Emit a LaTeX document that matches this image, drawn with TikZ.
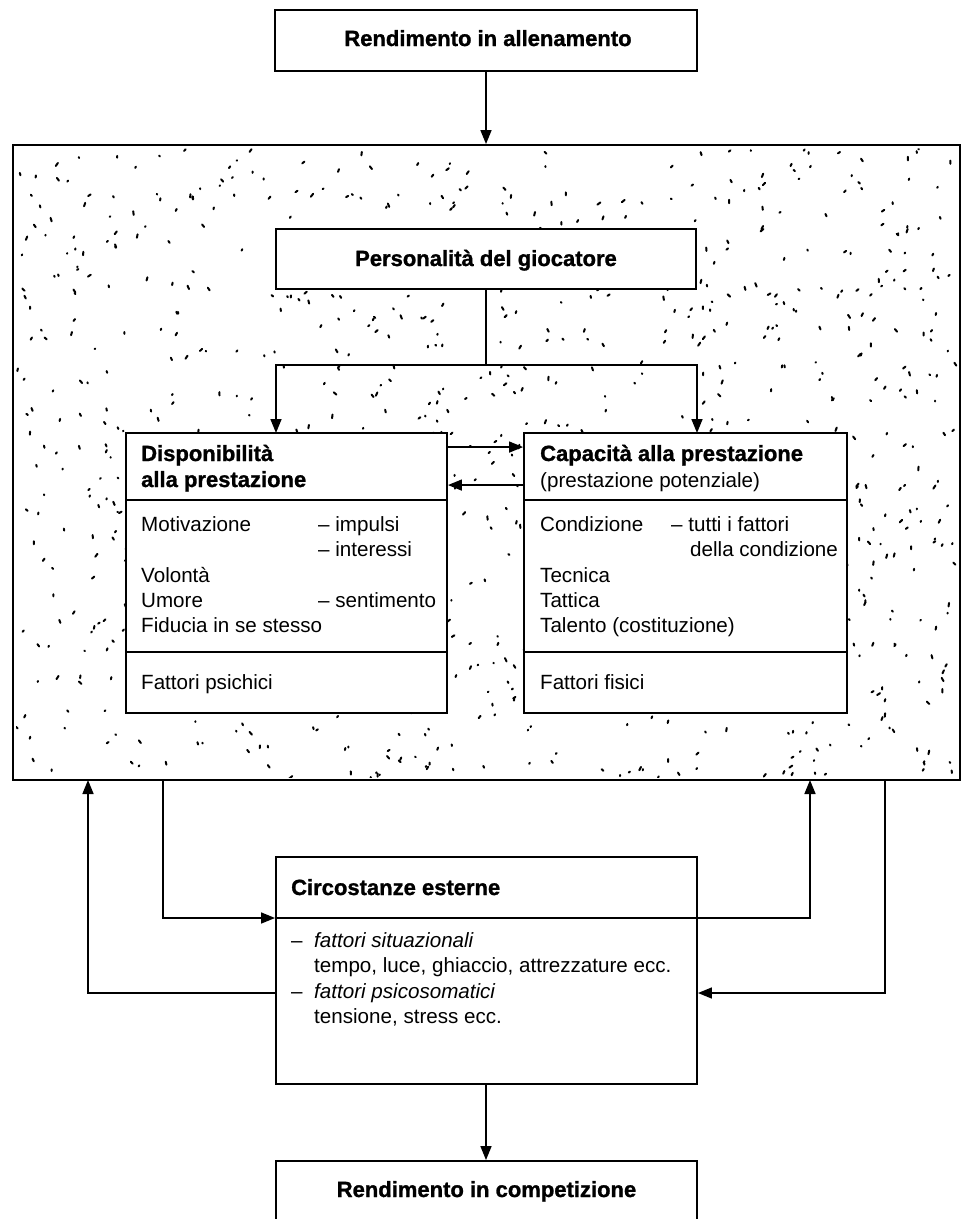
\documentclass[tikz,border=0pt]{standalone}
\usepackage{fontspec}
\setmainfont[BoldFeatures={FakeBold=1.2}]{Liberation Sans}
\usetikzlibrary{arrows.meta,calc}
\newcommand\myrg{\fontsize{20.6}{25.5}\selectfont}
\newcommand\mybd{\fontsize{22}{26}\selectfont\bfseries}
\begin{document}
\begin{tikzpicture}[x=1pt,y=-1pt,
  box/.style={draw, line width=1.9pt, fill=white, inner sep=0pt, rectangle},
  conn/.style={line width=1.6pt},
  arr/.style={line width=1.6pt, -{Triangle[length=14pt,width=11pt]}},
  txt/.style={anchor=base west, inner sep=0pt, font=\myrg},
  btxt/.style={anchor=base west, inner sep=0pt, font=\mybd},
  ctxt/.style={anchor=base, inner sep=0pt, font=\mybd},
  stip/.style={line width=2pt, line cap=round}]
\clip (0,0) rectangle (967,1219);
\fill[white] (0,0) rectangle (967,1219);
% big stippled frame
\node[box, minimum width=947pt, minimum height=635pt] (big) at (486.5,462.5) {};
\begin{scope}
\clip (16,148) rectangle (957,777);
\pgfmathsetseed{4711}
\foreach \i in {1,...,1050}{
  \pgfmathsetmacro\xx{16+rnd*941}
  \pgfmathsetmacro\yy{149+rnd*628}
  \pgfmathsetmacro\aa{40+rnd*110}
  \pgfmathsetmacro\ll{0.6+rnd*3.2}
  \draw[stip] (\xx,\yy) -- ++(\aa:\ll);
}
\end{scope}
% boxes
\node[box, minimum width=422pt, minimum height=61pt] (top) at (486,40.5) {};
\node[ctxt] (toptxt) at (488,46) {Rendimento in allenamento};
\node[box, minimum width=420pt, minimum height=60pt] (pers) at (486,259) {};
\node[ctxt] (perstxt) at (486,266) {Personalità del giocatore};
\node[box, minimum width=321pt, minimum height=280pt] (disp) at (286.5,573) {};
\node[box, minimum width=323pt, minimum height=280pt] (cap) at (685.5,573) {};
\node[box, minimum width=421pt, minimum height=227pt] (circ) at (486.5,970.5) {};
\node[box, minimum width=421pt, minimum height=120pt] (comp) at (486.5,1221) {};
\node[ctxt] (comptxt) at (486.5,1197) {Rendimento in competizione};
% separators
\draw[line width=1.9pt] (disp.west |- 0,500) -- (disp.east |- 0,500);
\draw[line width=1.9pt] (disp.west |- 0,652) -- (disp.east |- 0,652);
\draw[line width=1.9pt] (cap.west |- 0,500) -- (cap.east |- 0,500);
\draw[line width=1.9pt] (cap.west |- 0,652) -- (cap.east |- 0,652);
% Disponibilità texts
\node[btxt] (d1) at (141,461) {Disponibilità};
\node[btxt] (d2) at (141,487) {alla prestazione};
\node[txt] (d3) at (141,531) {Motivazione};
\node[txt] (d3b) at (318,531) {– impulsi};
\node[txt] (d4b) at (318,556) {– interessi};
\node[txt] (d5) at (141,582) {Volontà};
\node[txt] (d6) at (141,607) {Umore};
\node[txt] (d6b) at (318,607) {– sentimento};
\node[txt] (d7) at (141,632) {Fiducia in se stesso};
\node[txt] (d8) at (141,689) {Fattori psichici};
% Capacità texts
\node[btxt] (c1) at (540,461) {Capacità alla prestazione};
\node[txt] (c2) at (540,487) {(prestazione potenziale)};
\node[txt] (c3) at (540,531) {Condizione};
\node[txt] (c3b) at (671,531) {– tutti i fattori};
\node[txt] (c4b) at (690,556) {della condizione};
\node[txt] (c5) at (540,582) {Tecnica};
\node[txt] (c6) at (540,607) {Tattica};
\node[txt] (c7) at (540,632) {Talento (costituzione)};
\node[txt] (c8) at (540,689) {Fattori fisici};
% Circostanze texts
\node[btxt] (e1) at (291,895) {Circostanze esterne};
\node[txt] (e2) at (291,947) {–};
\node[txt] (e2b) at (314,947) {\itshape fattori situazionali};
\node[txt] (e3) at (314,972) {tempo, luce, ghiaccio, attrezzature ecc.};
\node[txt] (e4) at (291,998) {–};
\node[txt] (e4b) at (314,998) {\itshape fattori psicosomatici};
\node[txt] (e5) at (314,1023) {tensione, stress ecc.};
% coordinates
\coordinate (split) at (486,365);
\coordinate (dIn) at (276,433);
\coordinate (cIn) at (697,433);
\coordinate (bL1) at (163,780);
\coordinate (bR1) at (810,780);
\coordinate (bL2) at (88,780);
\coordinate (bR2) at (885,780);
\coordinate (loopA) at (163,918);
\coordinate (loopB) at (810,918);
\coordinate (lowL) at (88,993);
\coordinate (lowR) at (885,993);
% connectors
\draw[arr] (top.south) -- (top.south |- big.north);
\draw[conn] (pers.south) -- (split);
\draw[arr] (split) -| (dIn);
\draw[arr] (split) -| (cIn);
\draw[arr] ([yshift=-15pt]disp.north east) -- ([yshift=-15pt]cap.north west);
\draw[arr] ([yshift=-53pt]cap.north west) -- ([yshift=-53pt]disp.north east);
\draw[arr] (bL1) -- (loopA) -- (circ.west |- loopA);
\draw[arr] (circ.west |- loopA) -- (loopB) -- (bR1);
\draw[arr] (bR2) -- (lowR) -- (circ.east |- lowR);
\draw[arr] (circ.west |- lowL) -- (lowL) -- (bL2);
\draw[arr] ([xshift=-0.5pt]circ.south) -- ([xshift=-0.5pt]comp.north);
\end{tikzpicture}
\end{document}
